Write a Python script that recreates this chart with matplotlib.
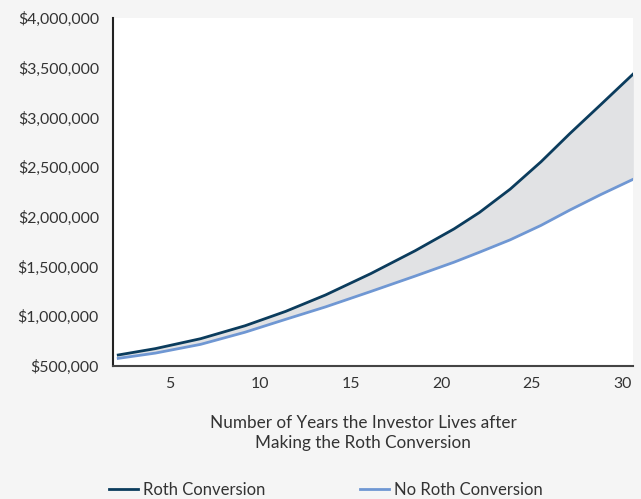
#Roth conversion vs no conversion - wealth over time
import numpy as np
import matplotlib.pyplot as plt
from matplotlib.ticker import FuncFormatter

plt.rcParams['font.family'] = ['Lato', 'DejaVu Sans']

#Data
years = [2.15, 4.2, 6.7, 9.15, 11.4, 13.6, 16.1, 18.55, 20.7, 22.1, 23.8, 25.5,
         27.1, 28.8, 30.6]
roth = [611000, 675000, 775000, 905000, 1050000, 1215000, 1430000, 1660000,
        1880000, 2045000, 2280000, 2555000, 2840000, 3130000, 3440000]
no_roth = [577000, 630000, 718000, 840000, 970000, 1095000, 1250000, 1405000,
           1545000, 1645000, 1770000, 1915000, 2070000, 2225000, 2380000]
x_ticks = [5, 10, 15, 20, 25, 30]
y_ticks = [500000, 1000000, 1500000, 2000000, 2500000, 3000000, 3500000, 4000000]

bg = '#f5f5f5'
dark = '#0b3c5d'
light = '#6f97d3'

fig = plt.figure(figsize=(6.41, 4.99), dpi=100, facecolor=bg)
ax = fig.add_axes([0.176, 0.2665, 0.812, 0.697])
ax.set_facecolor('white')

ax.fill_between(years, no_roth, roth, color='#e1e2e4', lw=0)
ax.plot(years, roth, color=dark, lw=2, label='Roth Conversion', solid_joinstyle='round')
ax.plot(years, no_roth, color=light, lw=2, label='No Roth Conversion', solid_joinstyle='round')

ax.set_xlim(1.85, 30.6)
ax.set_ylim(500000, 4000000)
ax.set_xticks(x_ticks)
ax.set_yticks(y_ticks)
ax.yaxis.set_major_formatter(FuncFormatter(lambda v, p: '${:,.0f}'.format(v)))
ax.tick_params(length=0, labelsize=11.4, colors='#333333', pad=10)
ax.tick_params(axis='x', pad=8)

for s in ['top', 'right']:
    ax.spines[s].set_visible(False)
ax.spines['left'].set_color('#222222')
ax.spines['left'].set_linewidth(1.5)
ax.spines['bottom'].set_color('#444444')
ax.spines['bottom'].set_linewidth(1.5)

ax.set_xlabel('Number of Years the Investor Lives after\nMaking the Roth Conversion',
              fontsize=12.3, color='#333333', labelpad=17, linespacing=1.3)
ax.xaxis.label.set_x(0.481)

fig.legend(loc='lower left', bbox_to_anchor=(0.146, -0.028), ncol=2, frameon=False,
           fontsize=12, columnspacing=5.7, handlelength=1.75, handletextpad=0.3,
           labelcolor='#333333')

plt.savefig('out.png', dpi=100, facecolor=bg)
